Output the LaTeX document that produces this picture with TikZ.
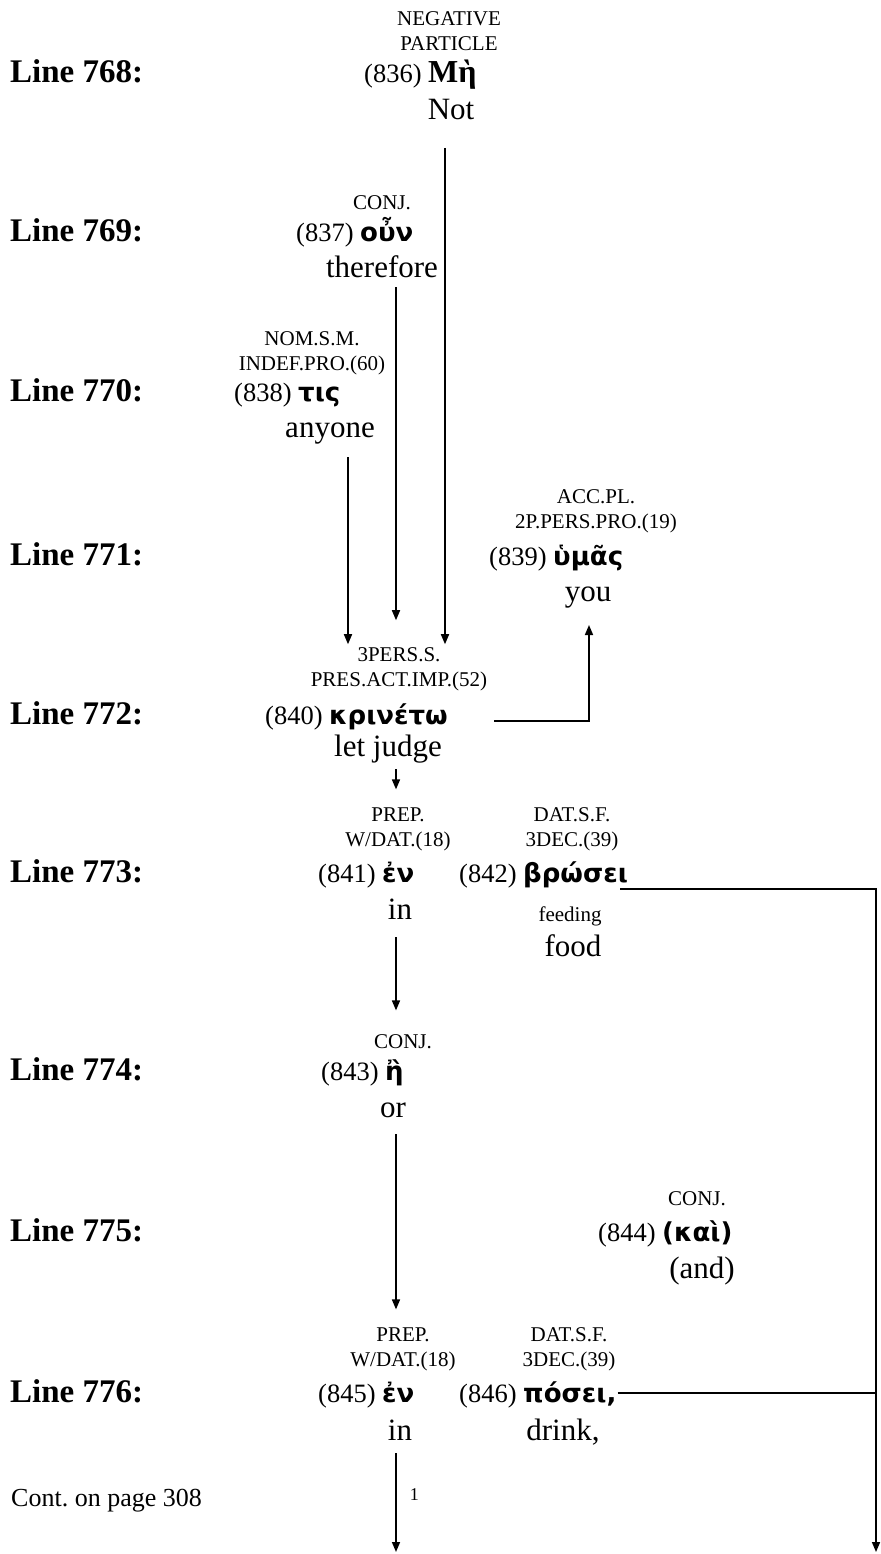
\documentclass[tikz,border=0pt]{standalone}
\usepackage{fontspec}
\setmainfont{Liberation Serif}
\newfontfamily\grkfont{DejaVu Sans}
\newfontfamily\mhfont{Liberation Serif}
\usetikzlibrary{arrows.meta,calc}
\newcommand\gk[1]{{\grkfont\bfseries\fontsize{26}{28}\selectfont #1}}
\tikzset{
  lnlab/.style={font=\bfseries\fontsize{33}{36}\selectfont, anchor=base west, inner sep=0pt},
  lbl/.style={font=\fontsize{21}{25}\selectfont, align=center, anchor=south, inner sep=0pt},
  wd/.style={font=\fontsize{26.5}{28}\selectfont, anchor=base west, inner sep=0pt},
  gl/.style={font=\fontsize{31}{34}\selectfont, anchor=base, inner sep=0pt},
  sm/.style={font=\fontsize{21}{24}\selectfont, anchor=base, inner sep=0pt},
  arr/.style={line width=1.6pt, -{Triangle[length=10pt,width=8pt]}},
  conn/.style={line width=1.6pt}
}
\begin{document}
\begin{tikzpicture}[x=1pt,y=-1pt]
\fill[white] (0,0) rectangle (880,1554);
\path[use as bounding box] (0,0) rectangle (880,1554);

% line labels
\node[lnlab] (L768) at (10,83) {Line 768:};
\node[lnlab] (L769) at (10,242) {Line 769:};
\node[lnlab] (L770) at (10,401) {Line 770:};
\node[lnlab] (L771) at (10,565) {Line 771:};
\node[lnlab] (L772) at (10,724) {Line 772:};
\node[lnlab] (L773) at (10,882) {Line 773:};
\node[lnlab] (L774) at (10,1080) {Line 774:};
\node[lnlab] (L775) at (10,1241) {Line 775:};
\node[lnlab] (L776) at (10,1402) {Line 776:};

% 836
\node[lbl] (l836) at (449,51) {NEGATIVE\\PARTICLE};
\node[wd] (w836) at (364,83) {(836) {\mhfont\bfseries\fontsize{32}{34}\selectfont Μὴ}};
\node[gl] (gNot) at (451,120) {Not};
% 837
\node[lbl] (l837) at (382,210) {CONJ.};
\node[wd] (w837) at (296,242) {(837) \gk{οὖν}};
\node[gl] (gThere) at (382,277) {therefore};
% 838
\node[lbl] (l838) at (312,375) {NOM.S.M.\\INDEF.PRO.(60)};
\node[wd] (w838) at (234,401) {(838) \gk{τις}};
\node[gl] (gAny) at (330,437) {anyone};
% 839
\node[lbl] (l839) at (596,533) {ACC.PL.\\2P.PERS.PRO.(19)};
\node[wd] (w839) at (489,565) {(839) \gk{ὑμᾶς}};
\node[gl] (gYou) at (588,601) {you};
% 840
\node[lbl] (l840) at (399,691) {3PERS.S.\\PRES.ACT.IMP.(52)};
\node[wd] (w840) at (265,724) {(840) \gk{κρινέτω}};
\node[gl] (gJudge) at (388,756) {let judge};
% 841
\node[lbl] (l841) at (398,851) {PREP.\\W/DAT.(18)};
\node[wd] (w841) at (318,882) {(841) \gk{ἐν}};
\node[gl] (gIn1) at (400,919) {in};
% 842
\node[lbl] (l842) at (572,851) {DAT.S.F.\\3DEC.(39)};
\node[wd] (w842) at (459,882) {(842) \gk{βρώσει}};
\node[sm] (gFeed) at (570,921) {feeding};
\node[gl] (gFood) at (573,956) {food};
% 843
\node[lbl] (l843) at (403,1049) {CONJ.};
\node[wd] (w843) at (321,1080) {(843) \gk{ἢ}};
\node[gl] (gOr) at (393,1117) {or};
% 844
\node[lbl] (l844) at (697,1206) {CONJ.};
\node[wd] (w844) at (598,1241) {(844) \gk{(καὶ)}};
\node[gl] (gAnd) at (702,1278) {(and)};
% 845
\node[lbl] (l845) at (403,1371) {PREP.\\W/DAT.(18)};
\node[wd] (w845) at (318,1402) {(845) \gk{ἐν}};
\node[gl] (gIn2) at (400,1440) {in};
% 846
\node[lbl] (l846) at (569,1371) {DAT.S.F.\\3DEC.(39)};
\node[wd] (w846) at (459,1402) {(846) \gk{πόσει,}};
\node[gl] (gDrink) at (563,1440) {drink,};

\node[wd, font=\fontsize{26}{28}\selectfont] (cont) at (11,1506) {Cont.\ on page 308};

\coordinate (rb) at (876,1552);
\coordinate (bb) at (396,1552);

% connectors
\draw[arr] ($(gNot.base)+(-6pt,-28pt)$) -- ($(l840.north -| gNot.base)+(-6pt,3pt)$);
\draw[arr] ($(gThere.base)+(14pt,-10pt)$) -- ($(l840.north -| gThere.base)+(14pt,27pt)$);
\draw[arr] ($(gAny.base)+(18pt,-20pt)$) -- ($(l840.north -| gAny.base)+(18pt,3pt)$);
\draw[arr] ($(w840.base east)+(46pt,3pt)$) -| ($(gYou.base)+(1pt,-24pt)$);
\draw[arr] ($(gJudge.base)+(8pt,-13pt)$) -- ($(l841.north -| gJudge.base)+(8pt,18pt)$);
\draw[arr] ($(gIn1.base)+(-4pt,-18pt)$) -- ($(l843.north -| gIn1.base)+(-4pt,24pt)$);
\draw[arr] ($(gOr.base)+(3pt,-17pt)$) -- ($(l845.north -| gOr.base)+(3pt,18pt)$);
\draw[arr] ($(w842.base east)+(-8pt,-7pt)$) -| (rb);
\draw[conn] ($(w846.base east)+(1pt,9pt)$) -- ($(w846.base east -| rb)+(0pt,9pt)$);
\draw[arr] ($(gIn2.base)+(-4pt,-13pt)$) -- (bb) node[pos=0.42, anchor=west, xshift=13pt, font=\fontsize{18}{20}\selectfont, inner sep=0pt] (one) {1};
\end{tikzpicture}
\end{document}
